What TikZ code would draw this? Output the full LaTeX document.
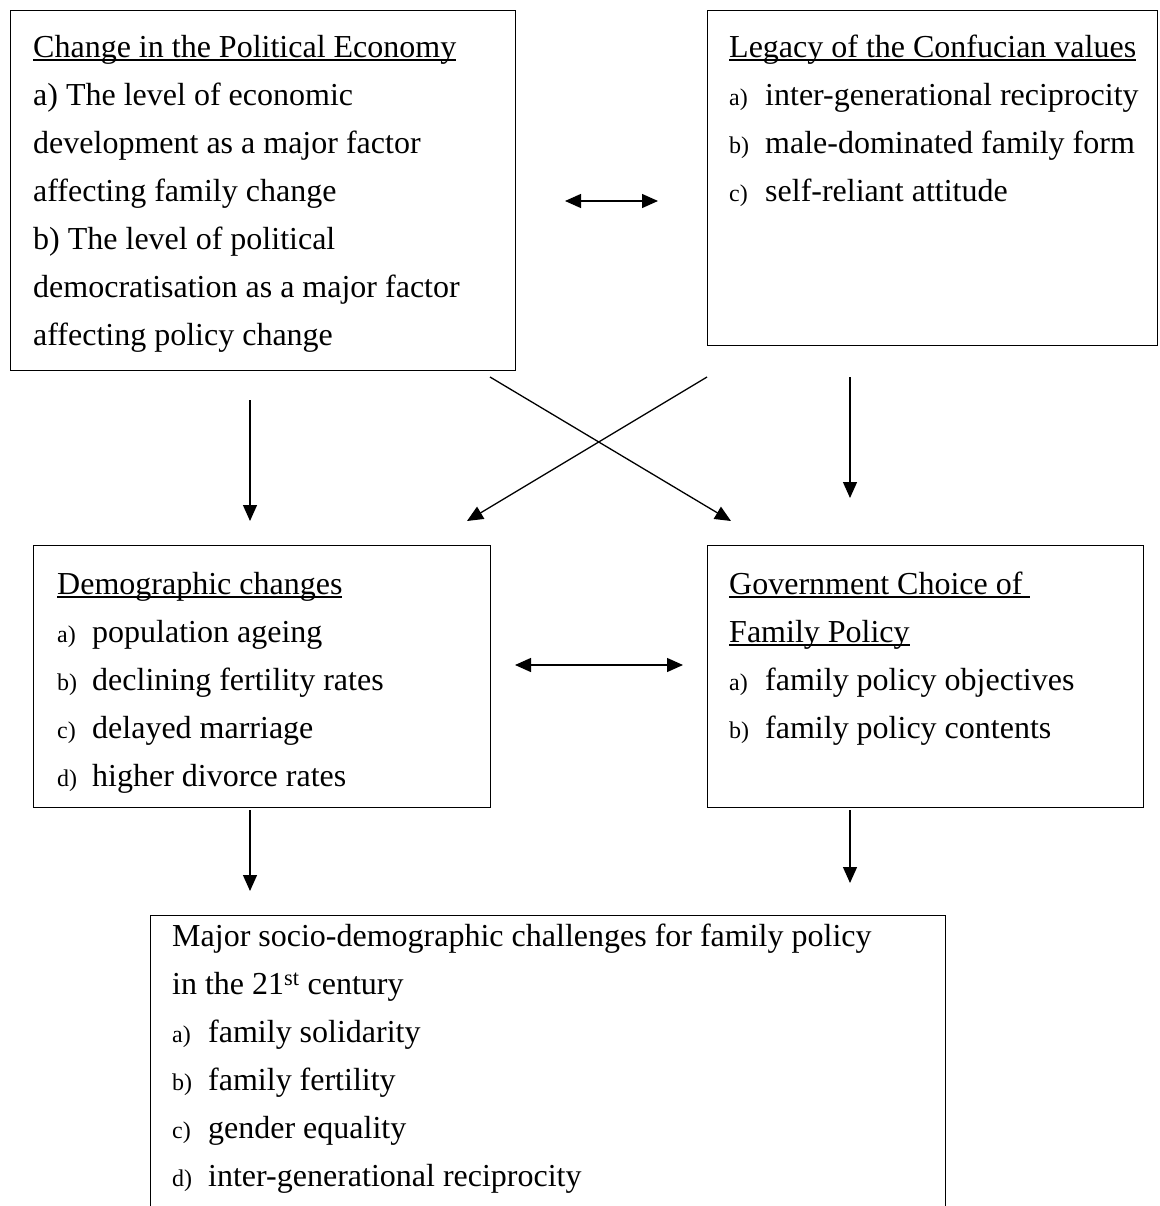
\documentclass[tikz,border=0pt]{standalone}
\usepackage{fontspec}
\setmainfont{Liberation Serif}
\usetikzlibrary{arrows.meta}
\newsavebox\ulbox
\newcommand{\ulin}[1]{\sbox\ulbox{#1}\rlap{\rule[-3.5pt]{\wd\ulbox}{1.4pt}}\usebox\ulbox}
\newcommand{\lbl}[1]{{\fontsize{24}{48}\selectfont #1}}
\newcommand{\itm}[3][36pt]{\makebox[#1][l]{\lbl{#2}}#3}
\begin{document}
\begin{tikzpicture}[x=1pt,y=-1pt]

      \tikzset{frame/.style={draw, line width=1.4pt, inner sep=0pt, anchor=north west},
               boxtext/.style={anchor=north west, inner sep=0pt, align=left, font=\fontsize{32}{48}\selectfont},
               link/.style={-{Triangle[length=16pt,width=14pt]}, line width=1.3pt},
               both/.style={{Triangle[length=16pt,width=14pt]}-{Triangle[length=16pt,width=14pt]}, line width=1.3pt}}
      \useasboundingbox (0,0) rectangle (1159,1206);
%% Boxes
      	\node[frame, minimum width=505pt, minimum height=360pt] (econ) at (10,10) {};
      	\node[frame, minimum width=450pt, minimum height=335pt] (conf) at (707,10) {};
      	\node[frame, minimum width=457pt, minimum height=262pt] (demo) at (33,545) {};
      	\node[frame, minimum width=436pt, minimum height=262pt] (govt) at (707,545) {};
      	\node[frame, minimum width=795pt, minimum height=400pt] (chal) at (150,915) {};
%% Texts
      	\node[boxtext] (econtxt) at (33,23.4) {\strut\ulin{Change in the Political Economy}\\
      	  a) The level of economic\\ development as a major factor\\ affecting family change\\
      	  b) The level of political\\ democratisation as a major factor\\ affecting policy change};
      	\node[boxtext] (conftxt) at (729,23.4) {\strut\ulin{Legacy of the Confucian values}\\
      	  \itm{a)}{inter-generational reciprocity}\\ \itm{b)}{male-dominated family form}\\
      	  \itm{c)}{self-reliant attitude}};
      	\node[boxtext] (demotxt) at (57,560.4) {\strut\ulin{Demographic changes}\\
      	  \itm[35pt]{a)}{population ageing}\\ \itm[35pt]{b)}{declining fertility rates}\\
      	  \itm[35pt]{c)}{delayed marriage}\\ \itm[35pt]{d)}{higher divorce rates}};
      	\node[boxtext] (govttxt) at (729,560.4) {\strut\ulin{Government Choice of\ }\\ \ulin{Family Policy}\\
      	  \itm{a)}{family policy objectives}\\ \itm{b)}{family policy contents}};
      	\node[boxtext] (chaltxt) at (172,912.4) {\strut Major socio-demographic challenges for family policy\\
      	  in the 21\textsuperscript{st} century\\ \itm{a)}{family solidarity}\\
      	  \itm{b)}{family fertility}\\ \itm{c)}{gender equality}\\
      	  \itm{d)}{inter-generational reciprocity}};
%% Arrow ends
      	\coordinate (t1) at (565,201);  \coordinate (t2) at (658,201);
      	\coordinate (l1) at (250,400);  \coordinate (l2) at (250,521);
      	\coordinate (r1) at (850,377);  \coordinate (r2) at (850,498);
      	\coordinate (x1) at (490,377);  \coordinate (x2) at (731,521);
      	\coordinate (y1) at (707,377);  \coordinate (y2) at (467,521);
      	\coordinate (m1) at (515,665);  \coordinate (m2) at (683,665);
      	\coordinate (d1) at (250,810);  \coordinate (d2) at (250,891);
      	\coordinate (e1) at (850,810);  \coordinate (e2) at (850,883);
%Edges
		\path [both](t1) edge (t2);
		\path [link](l1) edge (l2);
		\path [link](r1) edge (r2);
		\path [link](x1) edge (x2);
		\path [link](y1) edge (y2);
		\path [both](m1) edge (m2);
		\path [link](d1) edge (d2);
		\path [link](e1) edge (e2);

	\end{tikzpicture}
\end{document}
